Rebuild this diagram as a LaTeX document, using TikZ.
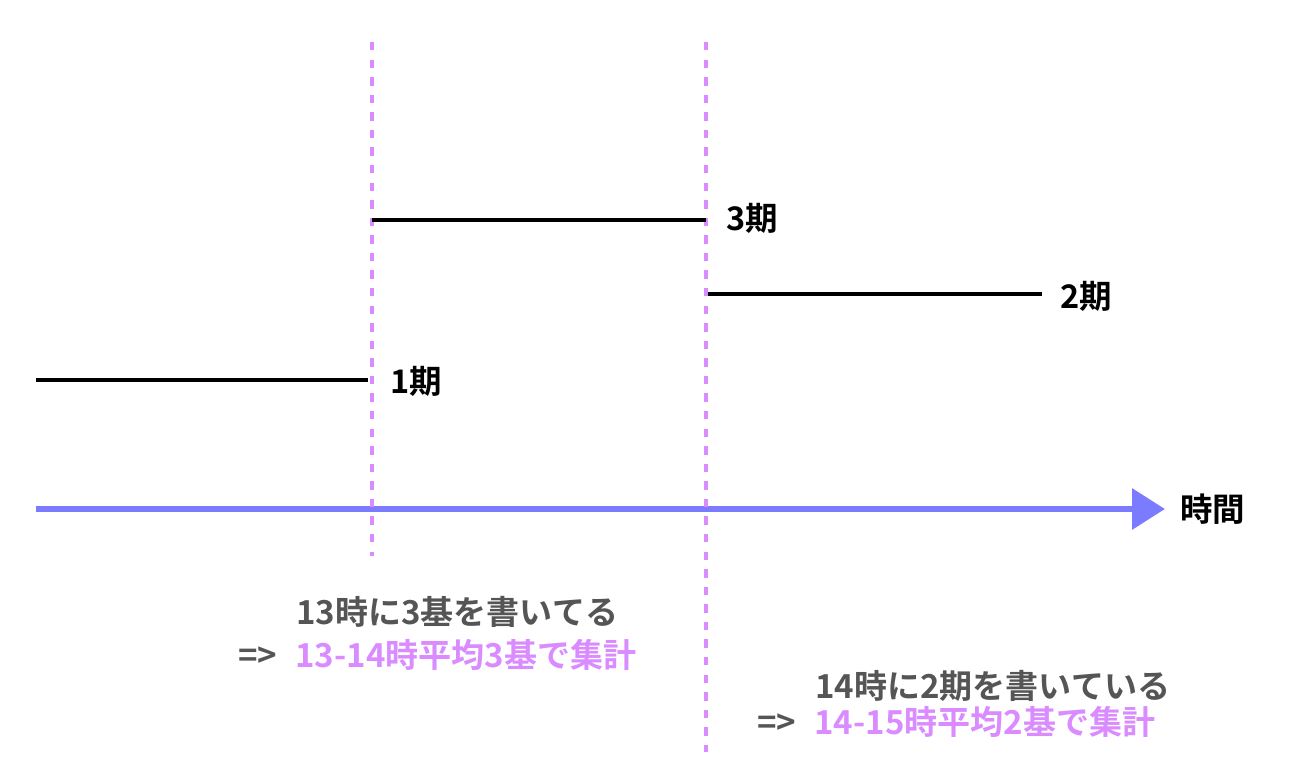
\documentclass[tikz,border=0pt]{standalone}
\usepackage{fontspec}
\newfontfamily\cjk{Noto Sans CJK JP}[BoldFont={Noto Sans CJK JP Bold}]
\usetikzlibrary{arrows.meta}
\definecolor{markpurple}{HTML}{D98BFF}
\definecolor{notegray}{HTML}{555555}
\definecolor{axisblue}{HTML}{7B7BFF}
\tikzset{
  boundary/.style={markpurple, line width=2.4pt, dash pattern=on 4.8pt off 5.2pt},
  period/.style={black, line width=1.9pt},
  timeaxis/.style={axisblue, line width=3.6pt, -{Triangle[length=0.66cm,width=0.8cm]}},
  plabel/.style={anchor=west, inner sep=0pt, font=\cjk\bfseries\fontsize{18.5}{22}\selectfont},
  note/.style={anchor=west, inner sep=0pt, text=notegray, font=\cjk\bfseries\fontsize{18.8}{22}\selectfont}
}
\begin{document}
\begin{tikzpicture}[x=0.02cm, y=-0.02cm]
    \useasboundingbox (0,0) rectangle (1302,782);
    % time axis
    \coordinate (t0) at (36,509);
    \coordinate (t1) at (1165,509);
    \draw[timeaxis] (t0) -- (t1);
    \node[plabel] (jikan) at (1180,509) {時間};
    % boundaries at 13h and 14h
    \coordinate (b1top) at (372,42);
    \coordinate (b1bot) at (372,556);
    \coordinate (b2top) at (706,42);
    \coordinate (b2bot) at (706,752);
    \draw[boundary] (b1top) -- (b1bot);
    \draw[boundary] (b2top) -- (b2bot);
    % periods
    \coordinate (p1a) at (36,380);
    \coordinate (p1b) at (368,380);
    \coordinate (p3a) at (372,220);
    \coordinate (p3b) at (706,220);
    \coordinate (p2a) at (708,294);
    \coordinate (p2b) at (1042,294);
    \draw[period] (p1a) -- (p1b);
    \draw[period] (p3a) -- (p3b);
    \draw[period] (p2a) -- (p2b);
    \node[plabel] (per1) at (390,381) {1期};
    \node[plabel] (per3) at (726,218) {3期};
    \node[plabel] (per2) at (1060,296) {2期};
    % notes
    \node[note] (note13) at (296,612) {13時に3基を書いてる};
    \node[note] (sum13) at (238,655) {=>\hspace{0.55em}\textcolor{markpurple}{13-14時平均3基で集計}};
    \node[note] (note14) at (815,686) {14時に2期を書いている};
    \node[note] (sum14) at (757,722) {=>\hspace{0.55em}\textcolor{markpurple}{14-15時平均2基で集計}};
\end{tikzpicture}
\end{document}
